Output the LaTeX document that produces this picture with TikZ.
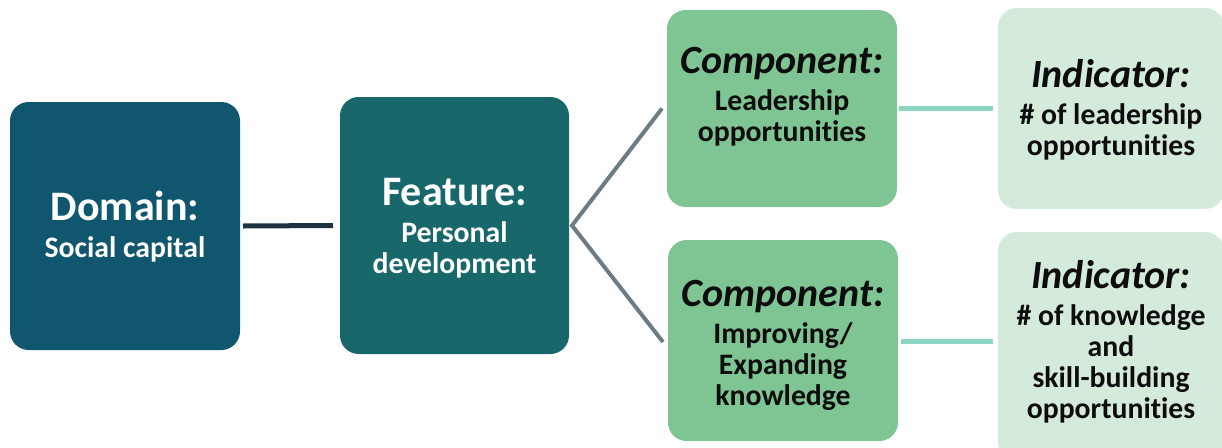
\documentclass[tikz,border=0pt]{standalone}
\usepackage{fontspec}
\setmainfont{Carlito}[Ligatures=NoCommon]
\usetikzlibrary{calc}

\definecolor{domainfill}{HTML}{0F566E}
\definecolor{featurefill}{HTML}{17676B}
\definecolor{compfill}{HTML}{7FC594}
\definecolor{indfill}{HTML}{D4EADB}
\definecolor{linkdark}{HTML}{1B3341}
\definecolor{linkgrey}{HTML}{6B7C84}
\definecolor{linkmint}{HTML}{8DD6C4}
\definecolor{inkdark}{HTML}{0D0D0D}

\tikzset{
  box/.style={draw=none, rounded corners=14pt, inner sep=0pt, outer sep=0pt},
  headtxt/.style={anchor=base, align=center, inner sep=0pt,
    font=\fontsize{31.5}{33}\selectfont\bfseries},
  headital/.style={headtxt, font=\fontsize{30}{32}\selectfont\bfseries\itshape},
  % multi-line bodies are anchored at the baseline of their last line
  bodytxt/.style={anchor=base, align=center, inner sep=0pt,
    font=\fontsize{22.3}{23.25}\selectfont\bfseries},
}

\begin{document}
\begin{tikzpicture}[x=0.75pt,y=-0.75pt]
\useasboundingbox (0,0) rectangle (1222,447);

% boxes
\node[box, fill=domainfill, minimum width=230*0.75pt, minimum height=248*0.75pt] (dom) at (125,226) {};
\node[box, fill=featurefill, minimum width=229*0.75pt, minimum height=257*0.75pt] (feat) at (454.5,225.5) {};
\node[box, fill=compfill, minimum width=230*0.75pt, minimum height=197*0.75pt] (comp1) at (782,108.5) {};
\node[box, fill=compfill, minimum width=230*0.75pt, minimum height=201*0.75pt] (comp2) at (783,340.5) {};
\node[box, fill=indfill, minimum width=226*0.75pt, minimum height=201*0.75pt] (ind1) at (1111,108.5) {};
\node[box, fill=indfill, minimum width=226*0.75pt, minimum height=228*0.75pt] (ind2) at (1111,346) {};

% connectors
\draw[linkdark, line width=3.75pt]
  ($(dom.east)+(3,0)$) -- ($(feat.west)+(-7,0)$);
\draw[linkgrey, line width=3pt, line join=miter]
  ($(comp1.west)+(-5,0)$) -- ($(feat.east)+(3,0)$) -- ($(comp2.west)+(-5,1.5)$);
\draw[linkmint, line width=3.75pt]
  ($(comp1.east)+(2,0)$) -- ($(ind1.west)+(-5,0)$);
\draw[linkmint, line width=3.75pt]
  ($(comp2.east)+(3,0.5)$) -- ($(ind2.west |- comp2.east)+(-5,0.5)$);

% texts
\node[headtxt, text=white] (domH) at (125,220) {Domain:};
\node[bodytxt, text=white] (domB) at (125,257) {Social capital};

\node[headtxt, text=white] (featH) at (454.5,205) {Feature:};
\node[bodytxt, text=white] (featB) at (454.5,273) {Personal\\development};

\node[headital, text=inkdark] (comp1H) at (782,73) {Component:};
\node[bodytxt, text=inkdark] (comp1B) at (782,141) {Leadership\\opportunities};

\node[headital, text=inkdark] (comp2H) at (783,306) {Component:};
\node[bodytxt, text=inkdark] (comp2B) at (783,405) {Improving/\\Expanding\\knowledge};

\node[headital, text=inkdark] (ind1H) at (1111,87) {Indicator:};
\node[bodytxt, text=inkdark] (ind1B) at (1111,155) {\# of leadership\\opportunities};

\node[headital, text=inkdark] (ind2H) at (1111,288) {Indicator:};
\node[bodytxt, text=inkdark] (ind2B) at (1111,418) {\# of knowledge\\and\\skill-building\\opportunities};
\end{tikzpicture}
\end{document}
